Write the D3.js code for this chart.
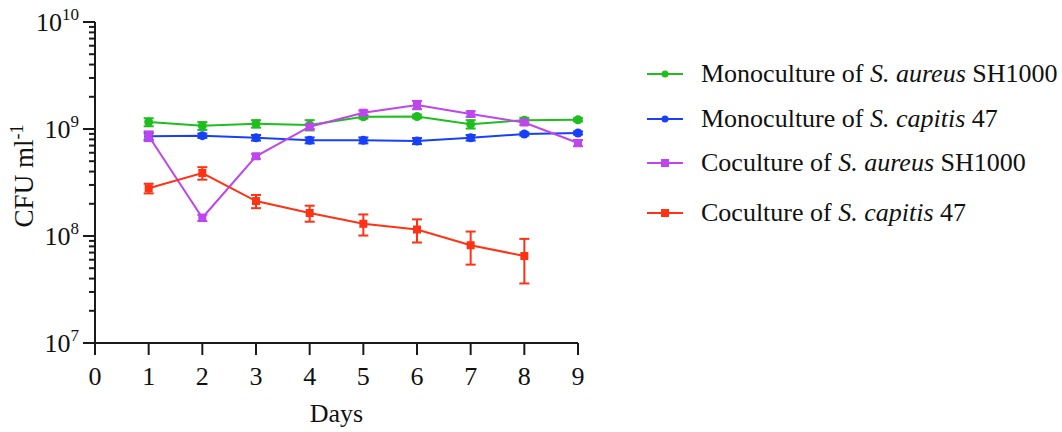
<!DOCTYPE html>
<html><head><meta charset="utf-8">
<script src="https://cdn.jsdelivr.net/npm/d3@7"></script>
<style>body{margin:0;background:#fff}svg{display:block}text{font-family:"Liberation Serif","Times New Roman",serif;fill:#111}</style>
</head><body><svg id="c" width="1062" height="432"></svg>
<script>
const days = [1,2,3,4,5,6,7,8,9];
const monoAureus = [1.16e9,1.07e9,1.12e9,1.09e9,1.30e9,1.31e9,1.11e9,1.21e9,1.22e9];
const monoAureusSD = [0.10e9,0.09e9,0.09e9,0.12e9,0.05e9,0.05e9,0.10e9,0.06e9,0.04e9];
const monoCapitis = [8.55e8,8.66e8,8.29e8,7.84e8,7.84e8,7.73e8,8.29e8,8.98e8,9.18e8];
const monoCapitisSD = [0.6e8,0.4e8,0.5e8,0.5e8,0.5e8,0.5e8,0.5e8,0.3e8,0.3e8];
const coAureus = [8.6e8,1.48e8,5.56e8,1.05e9,1.42e9,1.68e9,1.38e9,1.15e9,7.4e8];
const coAureusSD = [0.9e8,0.1e8,0.3e8,0.5e8,0.7e8,1.5e8,0.8e8,0.6e8,0.5e8];
const coCapitisDays = [1,2,3,4,5,6,7,8];
const coCapitis = [2.79e8,3.88e8,2.12e8,1.64e8,1.30e8,1.15e8,8.2e7,6.5e7];
const coCapitisSD = [0.29e8,0.52e8,0.30e8,0.28e8,0.29e8,0.28e8,0.28e8,0.29e8];
const xTicks = [0,1,2,3,4,5,6,7,8,9];
const yMajor = [7,8,9,10];

const series = [
  {label:["Monoculture of ","S. aureus"," SH1000"], x:days, y:monoAureus, sd:monoAureusSD, color:"#1fbe1f", shape:"circle"},
  {label:["Monoculture of ","S. capitis"," 47"], x:days, y:monoCapitis, sd:monoCapitisSD, color:"#1840fa", shape:"circle"},
  {label:["Coculture of ","S. aureus"," SH1000"], x:days, y:coAureus, sd:coAureusSD, color:"#bf46ee", shape:"square"},
  {label:["Coculture of ","S. capitis"," 47"], x:coCapitisDays, y:coCapitis, sd:coCapitisSD, color:"#ff3214", shape:"square"}
];

const svg = d3.select("#c");
const x = d3.scaleLinear().domain([0,9]).range([95,578]);
const y = d3.scaleLog().domain([1e7,1e10]).range([343,22]);
const axisColor = "#1a1a1a";

const yMinor = [];
for (let e=7;e<10;e++) for (let m=2;m<=9;m++) yMinor.push(m*Math.pow(10,e));
const ga = svg.append("g");
ga.append("line").attr("x1",x(0)).attr("x2",x(0)).attr("y1",y(1e10)).attr("y2",355).attr("stroke",axisColor).attr("stroke-width",2);
ga.selectAll(".mn").data(yMinor).join("line").attr("x1",x(0)-6).attr("x2",x(0)).attr("y1",d=>y(d)).attr("y2",d=>y(d)).attr("stroke",axisColor).attr("stroke-width",2);
ga.selectAll(".mj").data(yMajor).join("line").attr("x1",x(0)-12).attr("x2",x(0)).attr("y1",d=>y(Math.pow(10,d))).attr("y2",d=>y(Math.pow(10,d))).attr("stroke",axisColor).attr("stroke-width",2);
const yl = ga.selectAll(".yl").data(yMajor).join("text").attr("x",x(0)-16).attr("y",d=>y(Math.pow(10,d))+9).attr("text-anchor","end").style("font-size","26px");
yl.append("tspan").text("10");
yl.append("tspan").attr("dy",-11).style("font-size","17px").text(d=>d);

ga.append("line").attr("x1",x(0)-12).attr("x2",x(9)).attr("y1",y(1e7)).attr("y2",y(1e7)).attr("stroke",axisColor).attr("stroke-width",2);
ga.selectAll(".xt").data(xTicks).join("line").attr("x1",d=>x(d)).attr("x2",d=>x(d)).attr("y1",y(1e7)).attr("y2",y(1e7)+12).attr("stroke",axisColor).attr("stroke-width",2);
ga.selectAll(".xl").data(xTicks).join("text").attr("x",d=>x(d)).attr("y",385).attr("text-anchor","middle").style("font-size","26px").text(d=>d);
svg.append("text").attr("x",x(4.5)).attr("y",422).attr("text-anchor","middle").style("font-size","26px").text("Days");
const yt = svg.append("text").attr("transform","translate(33,176) rotate(-90)").attr("text-anchor","middle").style("font-size","27px");
yt.append("tspan").text("CFU ml");
yt.append("tspan").attr("dy",-10).style("font-size","18px").text("-1");

series.forEach(s=>{
  const g = svg.append("g");
  const pts = s.x.map((d,i)=>({x:d,y:s.y[i],sd:s.sd[i]}));
  g.append("path").datum(pts).attr("fill","none").attr("stroke",s.color).attr("stroke-width",2)
    .attr("d",d3.line().x(d=>x(d.x)).y(d=>y(d.y)));
  g.selectAll(".eb").data(pts).join("line").attr("x1",d=>x(d.x)).attr("x2",d=>x(d.x))
    .attr("y1",d=>y(d.y+d.sd)).attr("y2",d=>y(d.y-d.sd)).attr("stroke",s.color).attr("stroke-width",2);
  ["capHi","capLo"].forEach(cl=>{
    const v = d => cl=="capHi" ? d.y+d.sd : d.y-d.sd;
    g.selectAll("."+cl).data(pts).join("line").attr("class",cl).attr("x1",d=>x(d.x)-5).attr("x2",d=>x(d.x)+5)
      .attr("y1",d=>y(v(d))).attr("y2",d=>y(v(d))).attr("stroke",s.color).attr("stroke-width",2);
  });
  if (s.shape=="circle") g.selectAll(".m").data(pts).join("circle").attr("class","m").attr("cx",d=>x(d.x)).attr("cy",d=>y(d.y)).attr("r",4.5).attr("fill",s.color);
  else g.selectAll(".m").data(pts).join("rect").attr("class","m").attr("x",d=>x(d.x)-4).attr("y",d=>y(d.y)-4).attr("width",8).attr("height",8).attr("fill",s.color);
});

const legY = [74,119,163,213];
series.forEach((s,i)=>{
  const g = svg.append("g");
  g.append("line").attr("x1",647).attr("x2",683).attr("y1",legY[i]).attr("y2",legY[i]).attr("stroke",s.color).attr("stroke-width",2);
  if (s.shape=="circle") g.append("circle").attr("cx",665).attr("cy",legY[i]).attr("r",3.5).attr("fill",s.color);
  else g.append("rect").attr("x",661).attr("y",legY[i]-4).attr("width",8).attr("height",8).attr("fill",s.color);
  const t = g.append("text").attr("x",701).attr("y",legY[i]+8).style("font-size","26px");
  t.append("tspan").text(s.label[0]);
  t.append("tspan").style("font-style","italic").text(s.label[1]);
  t.append("tspan").text(s.label[2]);
});
</script></body></html>
